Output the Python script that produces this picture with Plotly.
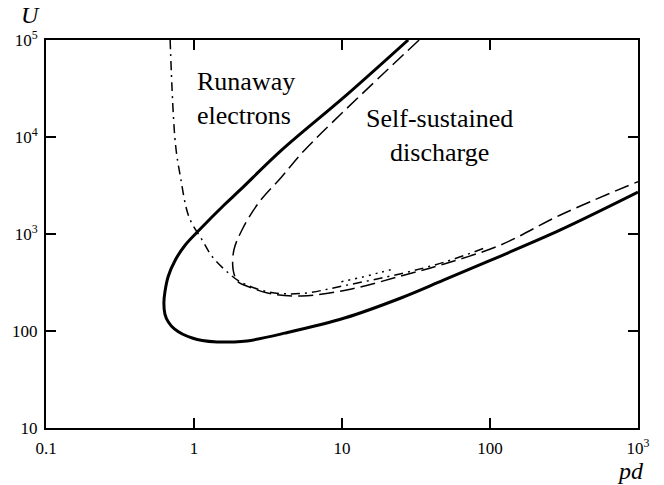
import plotly.graph_objects as go

# Breakdown boundary (solid, thick)
solid_pd = [28, 10.56, 3.92, 2.05, 1.597, 1.085, 0.873, 0.748, 0.671, 0.636, 0.626, 0.636, 0.671,
            0.737, 0.834, 0.973, 1.137, 1.432, 1.807, 2.28, 4.1, 10.4, 25, 48.9, 118, 299, 1000]
solid_U = [1e5, 26500, 7350, 2845, 1991, 1099, 771, 540, 369, 252, 194.5, 149.6, 123.8,
           105, 93.2, 84.7, 79.8, 77.1, 77.1, 78.9, 95, 136, 219, 336, 593, 1100, 2700]

# Runaway criterion (dash-dot)
dashdot_pd = [0.69, 0.748, 0.81, 0.925, 1.135, 1.33, 1.72, 2.05, 3.19, 5.35, 10.4, 25, 49, 90.8]
dashdot_U = [1e5, 8700, 3870, 1500, 867, 583, 393, 322, 252, 244, 294, 390, 512, 712]

# Second breakdown curve (dashed)
dashed_pd = [33.2, 5.6, 3.92, 2.73, 2.11, 1.86, 1.84, 1.98, 2.34, 3.19, 5.35, 11.6, 25, 49, 118, 299, 1000]
dashed_U = [1e5, 7350, 3900, 2090, 1100, 684, 425, 322, 286, 245, 230, 271, 369, 491, 771, 1570, 3470]

# Short dotted segment
dotted_pd = [9.9, 14, 18.5, 23]
dotted_U = [322, 362, 405, 440]

x_tickvals = [0.1, 1, 10, 100, 1000]
x_ticktext = ["0.1", "1", "10", "100", "10<sup>3</sup>"]
y_tickvals = [10, 100, 1000, 10000, 100000]
y_ticktext = ["10", "100", "10<sup>3</sup>", "10<sup>4</sup>", "10<sup>5</sup>"]

SERIF = "Liberation Serif"

fig = go.Figure()
fig.add_trace(go.Scatter(x=solid_pd, y=solid_U, mode="lines",
                         line=dict(color="black", width=3, shape="spline", smoothing=1.0)))
fig.add_trace(go.Scatter(x=dashdot_pd, y=dashdot_U, mode="lines",
                         line=dict(color="black", width=1.5, dash="9px,5px,2px,5px",
                                   shape="spline", smoothing=1.0)))
fig.add_trace(go.Scatter(x=dashed_pd, y=dashed_U, mode="lines",
                         line=dict(color="black", width=1.5, dash="15px,6px",
                                   shape="spline", smoothing=1.0)))
fig.add_trace(go.Scatter(x=dotted_pd, y=dotted_U, mode="lines",
                         line=dict(color="black", width=1.5, dash="2px,5px",
                                   shape="spline", smoothing=1.0)))

axis_common = dict(
    type="log", showgrid=False, zeroline=False,
    showline=True, linecolor="black", linewidth=2, mirror="allticks",
    ticks="inside", ticklen=10, tickwidth=2, tickcolor="black",
    tickfont=dict(family=SERIF, size=17, color="black"),
)
fig.update_xaxes(range=[-1, 3], tickvals=x_tickvals, ticktext=x_ticktext,
                 ticklabelstandoff=4, **axis_common)
fig.update_yaxes(range=[1, 5], tickvals=y_tickvals, ticktext=y_ticktext,
                 ticklabelstandoff=3, **axis_common)

fig.add_annotation(text="Runaway<br>electrons", xref="paper", yref="paper",
                   x=0.252, y=0.848, xanchor="left", yanchor="middle", align="left",
                   showarrow=False, font=dict(family=SERIF, size=26, color="black"))
fig.add_annotation(text="Self-sustained<br>discharge", xref="paper", yref="paper",
                   x=0.664, y=0.755, xanchor="center", yanchor="middle", align="center",
                   showarrow=False, font=dict(family=SERIF, size=26, color="black"))
fig.add_annotation(text="<i>U</i>", xref="paper", yref="paper",
                   x=-0.027, y=1.064, xanchor="center", yanchor="middle",
                   showarrow=False, font=dict(family=SERIF, size=24, color="black"))
fig.add_annotation(text="<i>pd</i>", xref="paper", yref="paper",
                   x=0.988, y=-0.112, xanchor="center", yanchor="middle",
                   showarrow=False, font=dict(family=SERIF, size=24, color="black"))

fig.update_layout(
    width=664, height=485,
    margin=dict(l=43, r=26, t=40, b=57),
    paper_bgcolor="white", plot_bgcolor="white",
    showlegend=False,
)

fig.write_html("out.html")
